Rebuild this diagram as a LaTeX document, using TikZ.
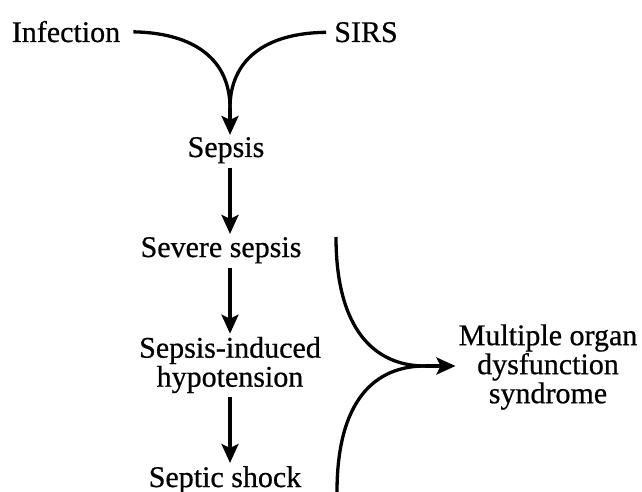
\documentclass[tikz,border=0pt]{standalone}
\usepackage{fontspec}
\setmainfont{Liberation Serif}[FakeBold=0.6]
\usetikzlibrary{arrows.meta}
\begin{document}
\begin{tikzpicture}[x=1pt,y=-1pt,
  lbl/.style={font=\fontsize{30}{29}\selectfont, inner sep=0pt, align=center},
  flow/.style={line width=3.3pt},
  arrowline/.style={flow, -{Stealth[length=19pt,width=17pt,inset=4pt]}}]
\useasboundingbox[fill=white] (0,0) rectangle (642,492);

% labels
\node[lbl,anchor=base] (inf) at (66,42) {Infection};
\node[lbl,anchor=base] (sirs) at (366,42) {SIRS};
\node[lbl,anchor=base] (sep) at (226,157) {Sepsis};
\node[lbl,anchor=base] (sev) at (221,257) {Severe sepsis};
\node[lbl] (hyp) at (230,365) {Sepsis-induced\\hypotension};
\node[lbl,anchor=base] (shock) at (225,487) {Septic shock};
\node[lbl] (mods) at (548,367) {Multiple organ\\dysfunction\\syndrome};

% helper points
\coordinate (col) at (230,0);
\coordinate (merge) at (230,108);
\coordinate (upstart) at (336,237);
\coordinate (lowstart) at (337,492);
\coordinate (join) at (425,366);

% Infection and SIRS join into sepsis
\draw[flow, shorten <=13pt] (inf.east) .. controls (195,33) and (230,60) .. (merge);
\draw[flow, shorten <=8pt] (sirs.west) .. controls (265,33) and (230,60) .. (merge);
\draw[arrowline] (merge) -- ([yshift=2pt]sep.north -| col);

% main cascade
\draw[arrowline, shorten <=4pt, shorten >=3pt] (sep.south -| col) -- (sev.north -| col);
\draw[arrowline, shorten <=4pt, shorten >=3pt] (sev.south -| col) -- (hyp.north -| col);
\draw[arrowline, shorten <=4pt, shorten >=3pt] (hyp.south -| col) -- (shock.north -| col);

% branches into MODS
\draw[flow] (upstart) .. controls (336,330) and (375,366) .. (join);
\draw[flow] (lowstart) .. controls (337,400) and (375,366) .. (join);
\draw[arrowline] (join) -- ([xshift=-3pt]mods.west |- join);
\end{tikzpicture}
\end{document}
